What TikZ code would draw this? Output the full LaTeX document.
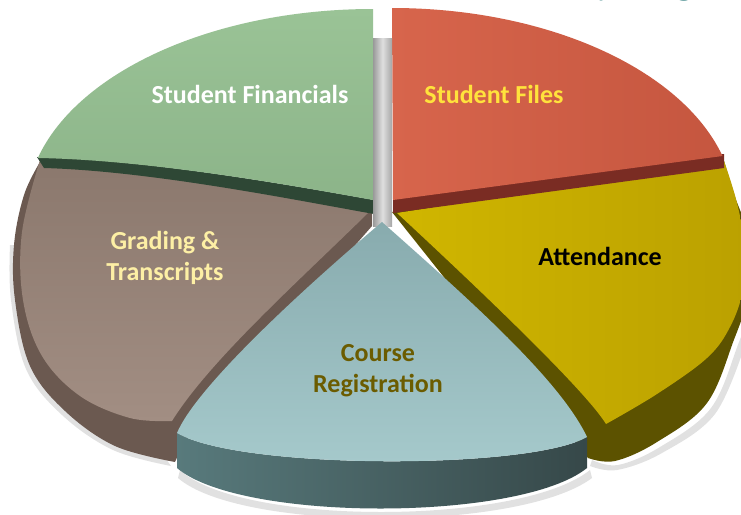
\documentclass[tikz,border=0pt]{standalone}
\usepackage{fontspec}
\setmainfont{Carlito}
\definecolor{gface}{HTML}{8CB489}
\definecolor{gfacelt}{HTML}{9AC396}
\definecolor{gband}{HTML}{2E4735}
\definecolor{rface}{HTML}{D7654C}
\definecolor{rfacedk}{HTML}{C5563F}
\definecolor{rband}{HTML}{7A2C23}
\definecolor{yface}{HTML}{D0B600}
\definecolor{yfacedk}{HTML}{BBA100}
\definecolor{yside}{HTML}{5C5200}
\definecolor{tface}{HTML}{88ABAE}
\definecolor{tfacelt}{HTML}{A6CACC}
\definecolor{tside}{HTML}{587A7C}
\definecolor{tsidedk}{HTML}{364849}
\definecolor{bface}{HTML}{8B786D}
\definecolor{bfacelt}{HTML}{A28E83}
\definecolor{bside}{HTML}{6B5950}
\definecolor{fragtxt}{HTML}{5E9A9C}
\definecolor{filestxt}{HTML}{FFE23C}
\definecolor{gradtxt}{HTML}{FDEFA5}
\definecolor{coursetxt}{HTML}{6B5C00}
\definecolor{shadowc}{HTML}{BDBDBD}
\begin{document}
\begin{tikzpicture}[x=1pt,y=-1pt,
  lbl/.style={font=\fontsize{26}{31}\selectfont\bfseries, inner sep=0pt, anchor=base},
  softshadow/.style={fill=shadowc, opacity=0.45}]
\useasboundingbox (0,0) rectangle (741,514);
\clip (0,0) rectangle (741,514);

% partly visible heading text at the top right (cut by the upper edge)
\node[font=\fontsize{34}{40}\selectfont, text=fragtxt, inner sep=0pt, anchor=base west] (frag) at (596,-5) {y using, a};

% soft shadows
\fill[softshadow] (180,470) .. controls (240,526) and (520,526) .. (590,470) -- (592,478) .. controls (520,532) and (240,532) .. (178,478) -- cycle;
\fill[softshadow] (592,460) -- plot[smooth, tension=0.6] coordinates {(592,460) (618,465) (660,447) (711,408) (739,342) (756,295)} -- (756,305) -- plot[smooth, tension=0.6] coordinates {(745,345) (715,414) (662,453) (617,470) (590,466)} -- cycle;
\fill[softshadow] (171,466) -- plot[smooth, tension=0.6] coordinates {(171,466) (113,450) (62,415) (26,369) (11,300) (10,245)} -- (16,245) -- cycle;

% Attendance (yellow) slice: side then top face
\fill[yside] (392,212) -- (588,458)
  -- plot[smooth, tension=0.6] coordinates {(588,458) (615,461) (657,442) (707,403) (735,337) (752,290)}
  -- (752,240) -- (736,200) -- (724,161) -- cycle;
\shade[left color=yface, right color=yfacedk] (397,213) -- (724,161)
  -- plot[smooth, tension=0.6] coordinates {(724,161) (737,203) (745,248) (743,290) (730,327) (707,358) (657,394) (606,424)}
  .. controls (585,390) and (480,290) .. (397,213) -- cycle;

% Student Files (red) slice
\fill[rband] (724,154) -- (393,199) -- (393,213) -- (724,168) -- cycle;
\shade[left color=rface, right color=rfacedk] (392,8)
  arc[start angle=-90, end angle=-15.5, x radius=343, y radius=202] -- (393,200) -- cycle;

% Grading & Transcripts (brown) slice
\fill[bside] (372,210) -- (372,226) -- (185,440) -- (175,462)
  -- plot[smooth, tension=0.6] coordinates {(175,462) (115,446) (65,411) (30,366) (15,300) (14,245) (24,195) (40,162)} -- cycle;
\shade[top color=bface, bottom color=bfacelt] (40,160) .. controls (150,163) and (290,188) .. (370,205)
  -- (368,213) .. controls (300,280) and (210,360) .. (172,421)
  -- plot[smooth, tension=0.6] coordinates {(172,421) (130,418) (80,396) (42,356) (23,300) (22,232) (40,160)} -- cycle;

% Student Financials (green) slice
\fill[gband] (37,157) .. controls (150,160) and (290,185) .. (374,200) -- (374,214)
  .. controls (290,199) and (150,171) .. (44,168) -- cycle;
\shade[top color=gfacelt, bottom color=gface] (373,9)
  arc[start angle=-90, end angle=-165, x radius=347, y radius=201]
  .. controls (150,160) and (290,185) .. (373,200) -- cycle;

% grey gap between the two upper slices
\shade[left color=gray!80, right color=gray!70, middle color=gray!25] (373,38) rectangle (392,226);

% Course Registration (teal) slice
\shade[left color=tside, right color=tsidedk] (177,433) -- (177,468)
  .. controls (240,522) and (520,522) .. (587,468) -- (587,437)
  .. controls (530,470) and (240,470) .. (177,433) -- cycle;
\shade[top color=tface, bottom color=tfacelt] (382,222) .. controls (470,300) and (560,380) .. (587,437)
  .. controls (530,470) and (240,470) .. (177,433)
  .. controls (195,390) and (290,300) .. (382,222) -- cycle;

% labels
\node[lbl, text=white] (sfin) at (250,103) {Student Financials};
\node[lbl, text=filestxt] (sfil) at (494,103) {Student Files};
\node[lbl, text=black] (att) at (600,265) {Attendance};
\node[lbl, text=gradtxt] (gr1) at (165,249.5) {Grading \&};
\node[lbl, text=gradtxt] (gr2) at (165,280.5) {Transcripts};
\node[lbl, text=coursetxt] (cr1) at (378,361.5) {Course};
\node[lbl, text=coursetxt] (cr2) at (378,392.5) {Registration};
\end{tikzpicture}
\end{document}
